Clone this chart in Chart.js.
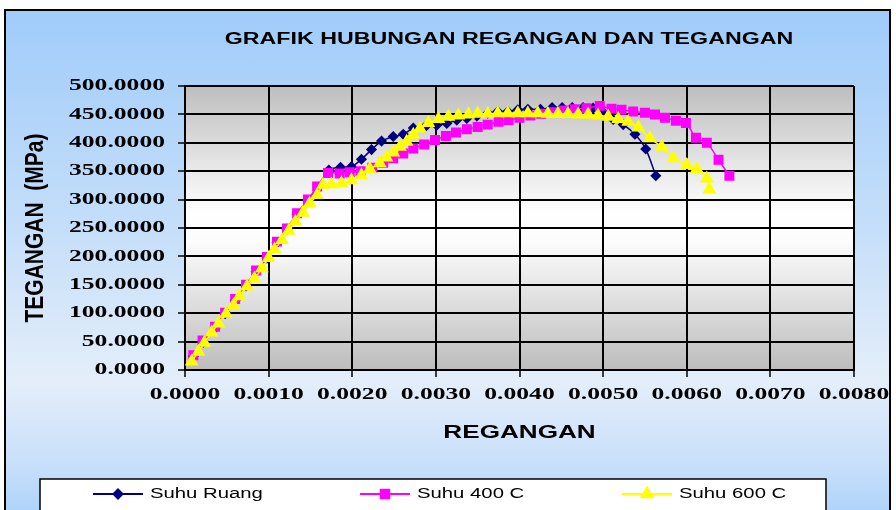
<!DOCTYPE html>
<html>
<head>
<meta charset="utf-8">
<script src="https://cdn.jsdelivr.net/npm/chart.js@4.4.1/dist/chart.umd.min.js"></script>
<style>
  body { margin: 0; background: #fff; }
  #wrap { position: relative; width: 896px; height: 510px; overflow: hidden; background: #fff; }
  #frame {
    position: absolute; left: 4px; top: 9px; width: 883px; height: 530px;
    border: 2px solid #000;
    background: linear-gradient(to bottom, #a0ccfa 0%, #c4def9 40%, #e4eefa 70%, #c9e0fa 85%, #a0ccfa 100%);
  }
  #chart { position: absolute; left: 0; top: 0; }
</style>
</head>
<body>
<div id="wrap">
  <div id="frame"></div>
  <canvas id="chart" width="896" height="510"></canvas>
</div>
<script>
// Strain / stress readings (regangan, tegangan MPa)
const ruangStrain = [0.0001, 0.00022, 0.00036, 0.00048, 0.0006, 0.00073, 0.00085, 0.00098, 0.0011, 0.00122,
  0.00134, 0.00147, 0.00159, 0.00172, 0.00186, 0.00199, 0.00211, 0.00223, 0.00235, 0.00249,
  0.00261, 0.00273, 0.00287, 0.00301, 0.00313, 0.00325, 0.00337, 0.00349, 0.00362, 0.00374,
  0.00386, 0.00398, 0.0041, 0.00425, 0.00439, 0.00451, 0.00463, 0.00476, 0.00488, 0.005,
  0.00512, 0.00524, 0.00538, 0.00551, 0.00563];
const ruangStress = [24, 49, 74, 99, 123, 148, 173, 197, 224, 248,
  274, 298, 322, 352, 357, 358, 371, 388, 403, 411,
  415, 426, 428, 431, 434, 440, 443, 447, 452, 455,
  455, 458, 459, 459, 462, 462, 462, 462, 461, 454,
  441, 432, 415, 389, 342];

const suhu400Strain = [0.0001, 0.00021, 0.00036, 0.00048, 0.0006, 0.00073, 0.00085, 0.00098, 0.0011, 0.00122,
  0.00134, 0.00147, 0.00158, 0.00171, 0.00185, 0.00197, 0.0021, 0.00224, 0.00237, 0.00249,
  0.00261, 0.00273, 0.00286, 0.00299, 0.00312, 0.00324, 0.00337, 0.0035, 0.00362, 0.00375,
  0.00387, 0.004, 0.00413, 0.00426, 0.00439, 0.00453, 0.00466, 0.0048, 0.00496, 0.0051,
  0.00522, 0.00536, 0.0055, 0.00562, 0.00574, 0.00587, 0.00599, 0.00611, 0.00624, 0.00638,
  0.00651];
const suhu400Stress = [26, 52, 76, 101, 125, 150, 175, 199, 226, 249,
  276, 300, 323, 347, 346, 348, 350, 356, 365, 373,
  381, 390, 397, 405, 412, 418, 424, 428, 432, 437,
  440, 444, 448, 451, 454, 457, 459, 461, 465, 460,
  458, 455, 453, 450, 444, 439, 435, 409, 400, 370,
  342];

const suhu600Strain = [0.00008, 0.00016, 0.00023, 0.00032, 0.0004, 0.00049, 0.00058, 0.00065, 0.00074, 0.00083,
  0.00092, 0.001, 0.00107, 0.00116, 0.00124, 0.00132, 0.00141, 0.00149, 0.00158, 0.00165,
  0.00175, 0.00187, 0.00199, 0.00211, 0.00221, 0.00233, 0.00241, 0.00249, 0.00257, 0.00265,
  0.00273, 0.00281, 0.00291, 0.00303, 0.00315, 0.00327, 0.00339, 0.0035, 0.00362, 0.00374,
  0.00386, 0.00398, 0.0041, 0.00422, 0.00434, 0.00446, 0.00458, 0.0047, 0.00482, 0.00494,
  0.00506, 0.00518, 0.0053, 0.00542, 0.00556, 0.0057, 0.00584, 0.006, 0.00612, 0.00624,
  0.00627];
const suhu600Stress = [15, 32, 48, 66, 82, 99, 114, 130, 147, 161,
  179, 197, 212, 229, 245, 261, 277, 293, 308, 326,
  327, 329, 334, 343, 354, 364, 374, 383, 393, 402,
  414, 425, 435, 442, 446, 448, 450, 451, 451, 452,
  452, 452, 452, 452, 451, 451, 451, 450, 450, 448,
  446, 442, 437, 427, 408, 393, 373, 361, 354, 337,
  318];

const seriesLabels = ['Suhu Ruang', 'Suhu 400 C', 'Suhu 600 C'];
const chartTitle = 'GRAFIK HUBUNGAN REGANGAN DAN TEGANGAN';
const xTitle = 'REGANGAN';
const yTitle = 'TEGANGAN  (MPa)';

// text in the original is squeezed wide (auto-scaled fonts), so stretch glyphs sideways
const textStretch = { serif: 1.6, sans: 1.45, rotated: 1.27 };

function stretchText(ctx) {
  const plainFill = ctx.fillText.bind(ctx);
  ctx.fillText = function (text, x, y) {
    const m = ctx.getTransform();
    const rotated = Math.abs(m.b) > 0.5;
    const k = rotated ? textStretch.rotated : (ctx.font.includes('Serif') ? textStretch.serif : textStretch.sans);
    ctx.save();
    ctx.translate(x, y);
    if (rotated) ctx.scale(1, k); else ctx.scale(k, 1);
    plainFill(text, 0, 0);
    ctx.restore();
  };
}

function toPoints(xs, ys) {
  return xs.map((x, i) => ({ x: x, y: ys[i] }));
}

// gray-white-gray plot background
const plotBackground = {
  id: 'plotBackground',
  beforeDraw(chart) {
    const { ctx, chartArea: a } = chart;
    const g = ctx.createLinearGradient(0, a.top, 0, a.bottom);
    g.addColorStop(0, '#bebebe');
    g.addColorStop(0.45, '#ffffff');
    g.addColorStop(0.55, '#fcfcfc');
    g.addColorStop(1, '#bdbdbd');
    ctx.save();
    ctx.fillStyle = g;
    ctx.fillRect(a.left, a.top, a.right - a.left, a.bottom - a.top);
    ctx.restore();
  }
};

// title and the boxed legend at the bottom
const titleAndLegend = {
  id: 'titleAndLegend',
  afterDraw(chart) {
    const ctx = chart.ctx;
    ctx.save();
    ctx.fillStyle = '#000';
    ctx.font = 'bold 16px "Liberation Sans"';
    ctx.textAlign = 'center';
    ctx.textBaseline = 'middle';
    ctx.fillText(chartTitle, 509, 40);

    ctx.fillStyle = '#fff';
    ctx.strokeStyle = '#000';
    ctx.lineWidth = 1.5;
    ctx.fillRect(40, 479, 786, 50);
    ctx.strokeRect(40, 479, 786, 50);

    const itemX = [93, 360, 622];
    chart.data.datasets.forEach((ds, i) => {
      const x0 = itemX[i];
      const y = 494;
      ctx.strokeStyle = ds.borderColor;
      ctx.lineWidth = 2;
      ctx.beginPath();
      ctx.moveTo(x0, y);
      ctx.lineTo(x0 + 50, y);
      ctx.stroke();
      ctx.fillStyle = ds.pointBackgroundColor;
      ctx.strokeStyle = ds.pointBorderColor;
      Chart.helpers.drawPoint(ctx, {
        pointStyle: ds.pointStyle, radius: ds.pointRadius, rotation: 0, borderWidth: 1
      }, x0 + 25, y);
      ctx.fillStyle = '#000';
      ctx.font = '14px "Liberation Sans"';
      ctx.textAlign = 'left';
      ctx.fillText(ds.label, x0 + 57, y);
    });
    ctx.restore();
  }
};

const canvas = document.getElementById('chart');
const ctx = canvas.getContext('2d');
stretchText(ctx);

const tickFont = { family: 'Liberation Serif', size: 16, weight: 'bold' };
const gridStyle = { color: '#000', lineWidth: 2, tickColor: '#000', tickLength: 7, tickWidth: 1.5 };

new Chart(ctx, {
  type: 'scatter',
  data: {
    datasets: [
      {
        label: seriesLabels[0], data: toPoints(ruangStrain, ruangStress),
        borderColor: '#000080', backgroundColor: '#000080',
        pointBackgroundColor: '#000080', pointBorderColor: '#000080',
        pointStyle: 'rectRot', pointRadius: 4.5, borderWidth: 1.5,
        showLine: true, tension: 0.3, order: 2
      },
      {
        label: seriesLabels[1], data: toPoints(suhu400Strain, suhu400Stress),
        borderColor: '#ff00ff', backgroundColor: '#ff00ff',
        pointBackgroundColor: '#ff00ff', pointBorderColor: '#ff00ff',
        pointStyle: 'rect', pointRadius: 6, borderWidth: 1.5,
        showLine: true, tension: 0.3, order: 1
      },
      {
        label: seriesLabels[2], data: toPoints(suhu600Strain, suhu600Stress),
        borderColor: '#ffff00', backgroundColor: '#ffff00',
        pointBackgroundColor: '#ffff00', pointBorderColor: '#ffff00',
        pointStyle: 'triangle', pointRadius: 6.5, borderWidth: 1.5,
        showLine: true, tension: 0.3, order: 0
      }
    ]
  },
  options: {
    responsive: false,
    animation: false,
    devicePixelRatio: 1,
    layout: { padding: { top: 86, left: 10, right: 42, bottom: 60 } },
    plugins: {
      legend: { display: false },
      title: { display: false },
      tooltip: { enabled: false }
    },
    scales: {
      x: {
        type: 'linear', min: 0, max: 0.008,
        ticks: {
          stepSize: 0.001, autoSkip: false, maxRotation: 0, padding: 8,
          color: '#000', font: tickFont,
          callback: v => v.toFixed(4)
        },
        grid: gridStyle,
        border: { display: true, color: '#000', width: 2 },
        title: {
          display: true, text: xTitle, color: '#000',
          font: { family: 'Liberation Sans', size: 18, weight: 'bold' },
          padding: { top: 0, bottom: 6 }
        },
        afterFit(scale) { scale.height = 80; }
      },
      y: {
        type: 'linear', min: 0, max: 500,
        ticks: {
          stepSize: 50, autoSkip: false, padding: 13,
          color: '#000', font: tickFont,
          callback: v => v.toFixed(4)
        },
        grid: gridStyle,
        border: { display: true, color: '#000', width: 2 },
        title: {
          display: true, text: yTitle, color: '#000',
          font: { family: 'Liberation Sans', size: 21, weight: 'bold' },
          padding: { top: 13, bottom: 0 }
        },
        afterFit(scale) { scale.width = 175; }
      }
    }
  },
  plugins: [plotBackground, titleAndLegend]
});
</script>
</body>
</html>
